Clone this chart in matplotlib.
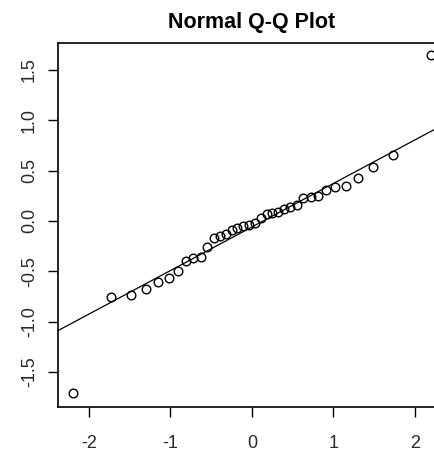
import matplotlib
matplotlib.use('Agg')
import matplotlib.pyplot as plt

# theoretical quantiles (x) and sample quantiles (y)
theo_q = [-2.20, -1.73, -1.48, -1.30, -1.15, -1.02, -0.91, -0.81, -0.72,
          -0.63, -0.55, -0.47, -0.39, -0.32, -0.25, -0.18, -0.11, -0.04,
          0.04, 0.11, 0.18, 0.25, 0.32, 0.39, 0.47, 0.55, 0.63, 0.72,
          0.81, 0.91, 1.02, 1.15, 1.30, 1.48, 1.73, 2.20]
sample_q = [-1.71, -0.76, -0.74, -0.68, -0.61, -0.57, -0.50, -0.40, -0.37,
            -0.36, -0.26, -0.17, -0.15, -0.13, -0.09, -0.07, -0.05, -0.04,
            -0.02, 0.03, 0.07, 0.08, 0.09, 0.12, 0.14, 0.16, 0.23, 0.24,
            0.25, 0.31, 0.34, 0.35, 0.43, 0.54, 0.66, 1.65]

# reference line (qqline)
line_intercept = -0.06
line_slope = 0.433

x_ticks = [-2, -1, 0, 1, 2]
y_ticks = [-1.5, -1.0, -0.5, 0.0, 0.5, 1.0, 1.5]
y_tick_labels = ['-1.5', '-1.0', '-0.5', '0.0', '0.5', '1.0', '1.5']

plt.rcParams['font.family'] = ['Liberation Sans', 'DejaVu Sans']

fig = plt.figure(figsize=(4.34, 4.54), dpi=100)
ax = fig.add_axes([0.1336, 0.1035, 0.894, 0.802])

xlim = (-2.38, 2.38)
ax.set_xlim(xlim)
ax.set_ylim(-1.85, 1.77)

ax.plot(xlim, [line_intercept + line_slope * v for v in xlim],
        color='k', lw=0.9)
ax.plot(theo_q, sample_q, linestyle='none', marker='o', markersize=6.2,
        markerfacecolor='none', markeredgecolor='k', markeredgewidth=1.0)

ax.set_xticks(x_ticks)
ax.set_xticklabels([str(t) for t in x_ticks])
ax.set_yticks(y_ticks)
ax.set_yticklabels(y_tick_labels, rotation=90, va='center')

ax.tick_params(axis='both', direction='out', length=7.5, width=1.0,
               labelsize=13, labelcolor='#2a2a2a')
ax.tick_params(axis='x', pad=12.5)
ax.tick_params(axis='y', pad=7)

for s in ax.spines.values():
    s.set_linewidth(1.2)

ax.set_title('Normal Q-Q Plot', fontsize=15.5, fontweight='bold', pad=11)

fig.savefig('out.png', dpi=100)
